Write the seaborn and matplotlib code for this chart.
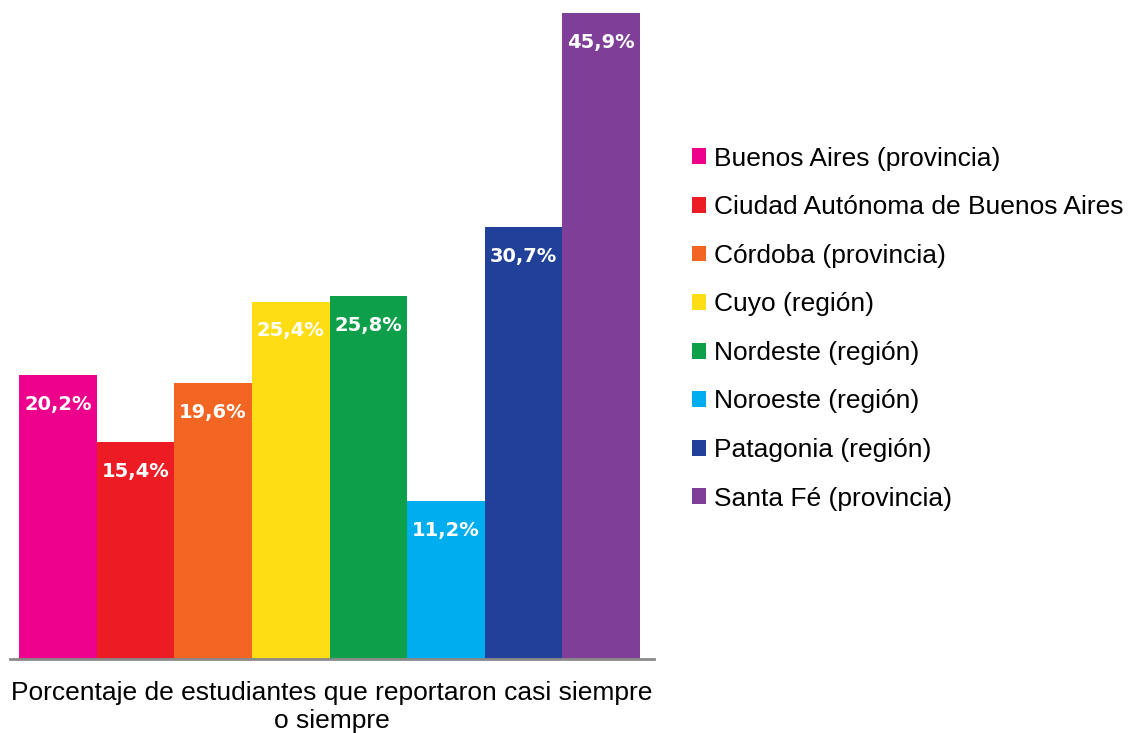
import numpy as np
import pandas as pd
import seaborn as sns
import matplotlib.pyplot as plt

regiones = ["Buenos Aires (provincia)", "Ciudad Autónoma de Buenos Aires", "Córdoba (provincia)",
            "Cuyo (región)", "Nordeste (región)", "Noroeste (región)", "Patagonia (región)",
            "Santa Fé (provincia)"]
porcentajes = [20.2, 15.4, 19.6, 25.4, 25.8, 11.2, 30.7, 45.9]
colores = ["#EC008C", "#ED1C24", "#F26522", "#FFDD15", "#0E9F4B", "#00AEEF", "#21409A", "#7F3F98"]

df = pd.DataFrame({"region": regiones, "pct": porcentajes})

sns.set_style("white")
plt.rcParams["font.family"] = ["Liberation Sans", "DejaVu Sans"]
plt.rcParams["text.color"] = "black"
plt.rcParams["axes.labelcolor"] = "black"

fig = plt.figure(figsize=(11.33, 7.33), dpi=100)
ax = fig.add_axes([10/1133, 74/733, 644/1133, 646/733])

sns.barplot(data=df, x="region", y="pct", hue="region", palette=colores,
            width=1, dodge=False, ax=ax, legend=True, saturation=1, linewidth=0)

ax.set_xlim(-0.616, 7.68)
ax.set_ylim(0, 45.9)

etiquetas = [f"{v:.1f}%".replace(".", ",") for v in porcentajes]
for cont, lab in zip(ax.containers, etiquetas):
    ax.bar_label(cont, labels=[lab], label_type="edge", padding=-28, color="white",
                 fontsize=14, fontweight="bold", family="DejaVu Sans")

for s in ["top", "right", "left"]:
    ax.spines[s].set_visible(False)
ax.spines["bottom"].set_color("#8a8a8a")
ax.spines["bottom"].set_linewidth(2)
ax.set_xticks([])
ax.set_yticks([])
ax.set_ylabel("")
ax.set_xlabel("Porcentaje de estudiantes que reportaron casi siempre\no siempre",
              fontsize=19, labelpad=16, linespacing=1.2)

handles, labels = ax.get_legend_handles_labels()
ax.legend(handles, labels, loc="upper left", bbox_to_anchor=(668/1133, 1 - 123/733),
          bbox_transform=fig.transFigure, frameon=False, fontsize=19,
          handlelength=0.55, handleheight=0.55, handletextpad=0.3, labelspacing=0.93)

fig.savefig("out.png", dpi=100)
